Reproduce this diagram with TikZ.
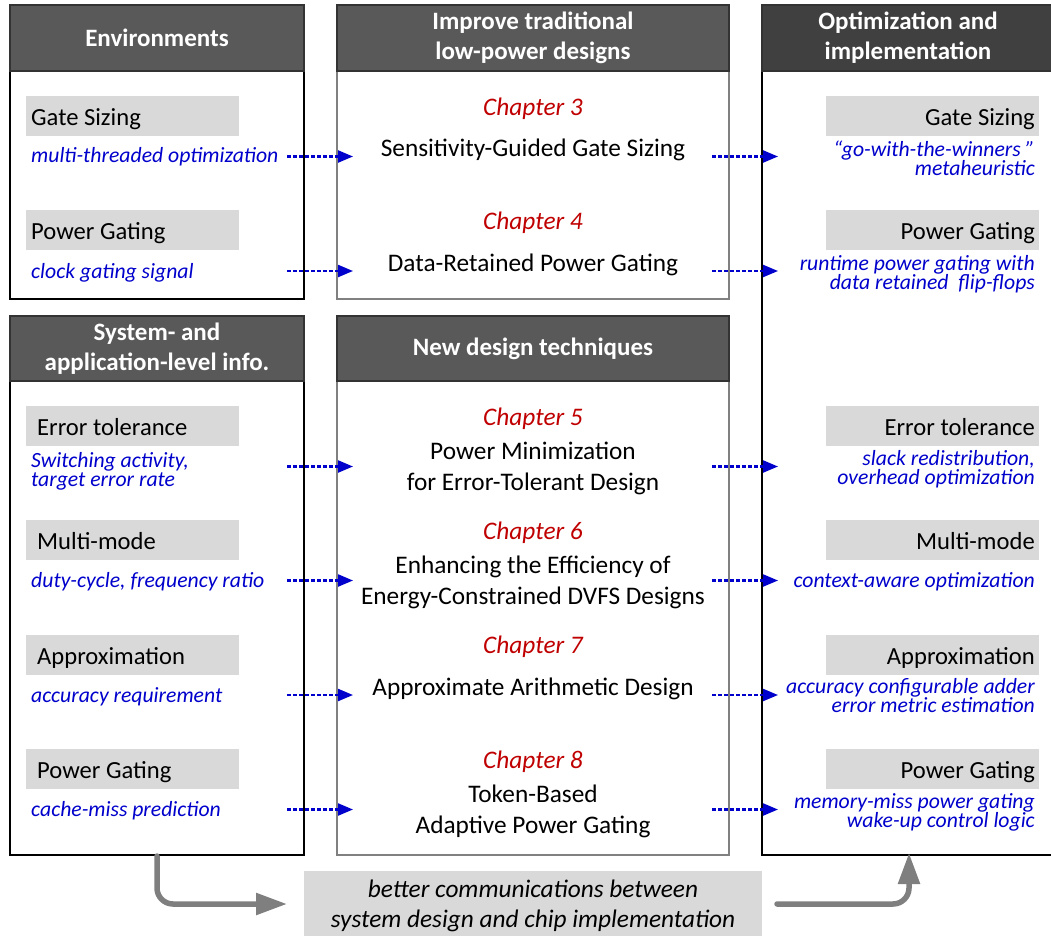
\documentclass[tikz,border=0pt]{standalone}
\usepackage{fontspec}
\setmainfont{Carlito}
\usetikzlibrary{arrows.meta}

\definecolor{headgray}{HTML}{595959}
\definecolor{headdark}{HTML}{404040}
\definecolor{taggray}{HTML}{D9D9D9}
\definecolor{noteblue}{HTML}{0000CC}
\definecolor{chapred}{HTML}{C00000}
\definecolor{flowgray}{HTML}{7F7F7F}
\definecolor{framegray}{HTML}{808080}

\tikzset{
  panel/.style={draw=black, line width=1.2pt, fill=white},
  midpanel/.style={draw=framegray, line width=1.4pt, fill=white},
  headbar/.style={fill=headgray, draw=black!80, line width=1.2pt},
  headtext/.style={text=white, font=\bfseries\fontsize{25}{30}\selectfont, align=center},
  tagbox/.style={fill=taggray, minimum width=213, minimum height=40, inner ysep=0pt,
                 text height=21pt, text depth=3pt,
                 font=\fontsize{24.6}{28}\selectfont},
  tagL/.style={tagbox, align=flush left, inner xsep=5pt, text width=203},
  tagLL/.style={tagbox, align=flush left, inner xsep=11pt, text width=191},
  tagR/.style={tagbox, align=flush right, inner xsep=4pt, text width=205},
  note/.style={text=noteblue, inner sep=0pt, font=\itshape\fontsize{21.7}{19}\selectfont},
  chap/.style={text=chapred, inner sep=0pt, font=\itshape\fontsize{25.3}{30}\selectfont},
  title/.style={inner sep=0pt, align=center, font=\fontsize{25.3}{31}\selectfont},
  link/.style={draw=noteblue, line width=2.2pt, dash pattern=on 3.5pt off 2.5pt,
               -{Triangle[length=15pt,width=12pt]}},
  flow/.style={draw=flowgray, line width=5.5pt, rounded corners=16pt, line cap=round,
               -{Triangle[length=31pt,width=21pt]}},
}

\begin{document}
\begin{tikzpicture}[x=1pt,y=-1pt]
\useasboundingbox (0,0) rectangle (1051,936);

% ---------- panels ----------
% left column
\draw[panel] (10,5) rectangle (304,299);
\draw[headbar] (10,5) rectangle (304,71);
\node[headtext] (envhead) at (157,38) {Environments};

\draw[panel] (10,316) rectangle (304,855);
\draw[headbar] (10,316) rectangle (304,381);
\node[headtext] (syshead) at (157,348.5) {System- and\\application-level info.};

% middle column
\draw[midpanel] (337,5) rectangle (729,299);
\draw[headbar] (337,5) rectangle (729,71);
\node[headtext] (tradhead) at (533,38) {Improve traditional\\low-power designs};

\draw[midpanel] (337,316) rectangle (729,855);
\draw[headbar] (337,316) rectangle (729,381);
\node[headtext] (newhead) at (533,348.5) {New design techniques};

% right column
\draw[panel] (762,5) rectangle (1060,855);
\draw[headbar, fill=headdark] (762,5) rectangle (1060,71);
\node[headtext] (opthead) at (908,38) {Optimization and\\implementation};

% ---------- left: inputs ----------
\node[tagL, anchor=north west] (lgs) at (26,96) {Gate Sizing};
\node[note, anchor=base west] (lgsn) at (31,163) {multi-threaded optimization};

\node[tagL, anchor=north west] (lpg) at (26,210) {Power Gating};
\node[note, anchor=base west] (lpgn) at (31,278) {clock gating signal};

\node[tagLL, anchor=north west] (let) at (26,406) {Error tolerance};
\node[note, anchor=north west, align=left] (letn) at (31,452.5)
  {Switching activity,\\target error rate};

\node[tagLL, anchor=north west] (lmm) at (26,520) {Multi-mode};
\node[note, anchor=base west] (lmmn) at (31,587) {duty-cycle, frequency ratio};

\node[tagLL, anchor=north west] (lap) at (26,635) {Approximation};
\node[note, anchor=base west] (lapn) at (31,702) {accuracy requirement};

\node[tagLL, anchor=north west] (lpg2) at (26,749) {Power Gating};
\node[note, anchor=base west] (lpg2n) at (31,816) {cache-miss prediction};

% ---------- middle: chapters ----------
\node[chap] (c3) at (533,109) {Chapter 3};
\node[title] (t3) at (533,150) {Sensitivity-Guided Gate Sizing};

\node[chap] (c4) at (533,223) {Chapter 4};
\node[title] (t4) at (533,265) {Data-Retained Power Gating};

\node[chap] (c5) at (533,419) {Chapter 5};
\node[title] (t5) at (533,468) {Power Minimization\\for Error-Tolerant Design};

\node[chap] (c6) at (533,533) {Chapter 6};
\node[title] (t6) at (533,582) {Enhancing the Efficiency of\\Energy-Constrained DVFS Designs};

\node[chap] (c7) at (533,647) {Chapter 7};
\node[title] (t7) at (533,689) {Approximate Arithmetic Design};

\node[chap] (c8) at (533,762) {Chapter 8};
\node[title] (t8) at (533,811) {Token-Based\\Adaptive Power Gating};

% ---------- right: outputs ----------
\node[tagR, anchor=north east] (rgs) at (1039,96) {Gate Sizing};
\node[note, anchor=north east, align=right] (rgsn) at (1035,140.5)
  {“go-with-the-winners ”\\metaheuristic};

\node[tagR, anchor=north east] (rpg) at (1039,210) {Power Gating};
\node[note, anchor=north east, align=right] (rpgn) at (1035,255.5)
  {runtime power gating with\\data retained\ \ flip-flops};

\node[tagR, anchor=north east] (ret) at (1039,406) {Error tolerance};
\node[note, anchor=north east, align=right] (retn) at (1035,450.5)
  {slack redistribution,\\overhead optimization};

\node[tagR, anchor=north east] (rmm) at (1039,520) {Multi-mode};
\node[note, anchor=base east] (rmmn) at (1035,587) {context-aware optimization};

\node[tagR, anchor=north east] (rap) at (1039,635) {Approximation};
\node[note, anchor=north east, align=right] (rapn) at (1035,678.5)
  {accuracy configurable adder\\error metric estimation};

\node[tagR, anchor=north east] (rpg2) at (1039,749) {Power Gating};
\node[note, anchor=north east, align=right] (rpg2n) at (1035,793.5)
  {memory-miss power gating\\wake-up control logic};

% ---------- dashed links ----------
\foreach \i/\y in {1/156.5,2/271,3/466.5,4/580.5,5/695,6/809.5}{
  \coordinate (inS\i) at (287,\y);
  \coordinate (inE\i) at (353,\y);
  \coordinate (outS\i) at (712,\y);
  \coordinate (outE\i) at (778,\y);
  \draw[link] (inS\i) -- (inE\i);
  \draw[link] (outS\i) -- (outE\i);
}

% ---------- bottom message and flow arrows ----------
\node[fill=taggray, minimum width=458, minimum height=70, anchor=north, inner sep=0pt,
      align=center, font=\itshape\fontsize{25.3}{30}\selectfont] (msg) at (533,871)
  {better communications between\\system design and chip implementation};

\coordinate (flowA) at (157,856);
\coordinate (flowAend) at (287,904);
\coordinate (flowBstart) at (777,904);
\coordinate (flowB) at (909,853);
\draw[flow] (flowA) |- (flowAend);
\draw[flow] (flowBstart) -| (flowB);
\end{tikzpicture}
\end{document}
